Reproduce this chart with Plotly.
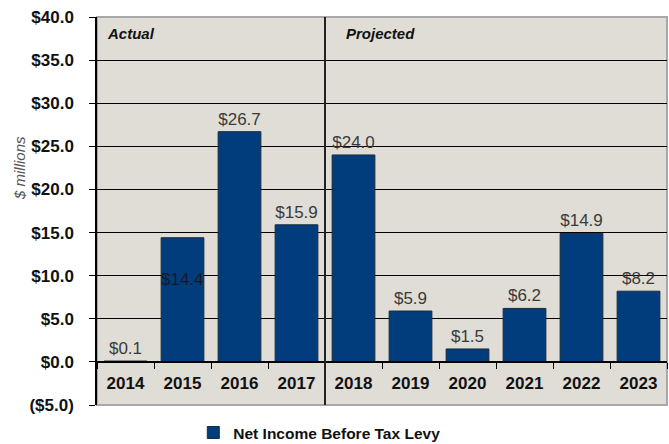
import plotly.graph_objects as go

years = ["2014", "2015", "2016", "2017", "2018", "2019", "2020", "2021", "2022", "2023"]
net_income = [0.1, 14.4, 26.7, 15.9, 24.0, 5.9, 1.5, 6.2, 14.9, 8.2]
y_tick_vals = [-5, 0, 5, 10, 15, 20, 25, 30, 35, 40]
y_tick_text = ["($5.0)", "$0.0", "$5.0", "$10.0", "$15.0", "$20.0", "$25.0", "$30.0", "$35.0", "$40.0"]
series_name = "Net Income Before Tax Levy"
period_labels = ["Actual", "Projected"]

FONT = "Liberation Sans, Arial, sans-serif"
BAR = "#013D7C"
BG = "#E0DDD6"

labels = ["$%.1f" % v for v in net_income]
# 2015 label is drawn inside the bar in the reference
bar_text = [("" if y == "2015" else t) for y, t in zip(years, labels)]

fig = go.Figure()
fig.add_trace(go.Bar(
    x=years, y=net_income, name="<b>%s</b>" % series_name,
    marker=dict(color=BAR, line=dict(color="#1E2A3A", width=1)),
    text=bar_text, textposition="outside", cliponaxis=False,
    textfont=dict(family=FONT, size=17, color="#3A3A3A"),
    width=0.75,
))

i15 = years.index("2015")
fig.add_annotation(x=i15, y=net_income[i15], xref="x", yref="y",
                   text=labels[i15], showarrow=False, yanchor="middle", yshift=-42,
                   font=dict(family=FONT, size=17, color="#161A22"))

# period labels
fig.add_annotation(x=-0.5, y=1, xref="x", yref="y domain", text="<b><i>%s</i></b>" % period_labels[0],
                   showarrow=False, xanchor="left", yanchor="top", xshift=8, yshift=-6,
                   font=dict(family=FONT, size=15, color="#111111"))
fig.add_annotation(x=3.5, y=1, xref="x", yref="y domain", text="<b><i>%s</i></b>" % period_labels[1],
                   showarrow=False, xanchor="left", yanchor="top", xshift=19, yshift=-6,
                   font=dict(family=FONT, size=15, color="#111111"))

# y title
fig.add_annotation(x=-0.135, y=0.611, xref="paper", yref="paper", text="<i>$ millions</i>",
                   showarrow=False, textangle=-90, xanchor="center", yanchor="middle",
                   font=dict(family=FONT, size=15, color="#555555"))

# plot border and divider
fig.add_shape(type="rect", xref="x domain", yref="y domain", x0=0, x1=1, y0=0, y1=1,
              line=dict(color="#A8A8A8", width=2), layer="below")
fig.add_shape(type="line", xref="x", yref="y domain", x0=3.5, x1=3.5, y0=0, y1=1,
              line=dict(color="#222222", width=2))

fig.update_layout(
    width=669, height=444,
    margin=dict(l=97, r=2, t=17, b=39, autoexpand=False),
    paper_bgcolor="white", plot_bgcolor=BG,
    font=dict(family=FONT, color="#000000"),
    showlegend=True,
    legend=dict(orientation="h", x=0.39, xanchor="center", y=-0.072, yanchor="middle",
                font=dict(family=FONT, size=15.5, color="#111111"), bgcolor="rgba(0,0,0,0)"),
    bargap=0.25,
)

fig.update_xaxes(type="category", range=[-0.5, 9.5], anchor="free", position=5 / 45,
                 showline=True, linecolor="#000000", linewidth=1.5,
                 ticks="outside", ticklen=6, tickcolor="#000000", tickson="boundaries",
                 showgrid=False, ticklabelstandoff=6,
                 tickprefix="<b>", ticksuffix="</b>",
                 tickfont=dict(family=FONT, size=17, color="#111111"))
fig.update_yaxes(range=[-5, 40], tickvals=y_tick_vals,
                 ticktext=["<b>%s</b>" % t for t in y_tick_text],
                 showline=True, linecolor="#000000", linewidth=1.5,
                 ticks="outside", ticklen=6, tickcolor="#000000",
                 showgrid=True, gridcolor="#000000", gridwidth=1, zeroline=False,
                 ticklabelstandoff=12,
                 tickfont=dict(family=FONT, size=17, color="#111111"))

fig.write_html("out.html", config={"displayModeBar": False},
               post_script="document.body.style.margin='0px';")
